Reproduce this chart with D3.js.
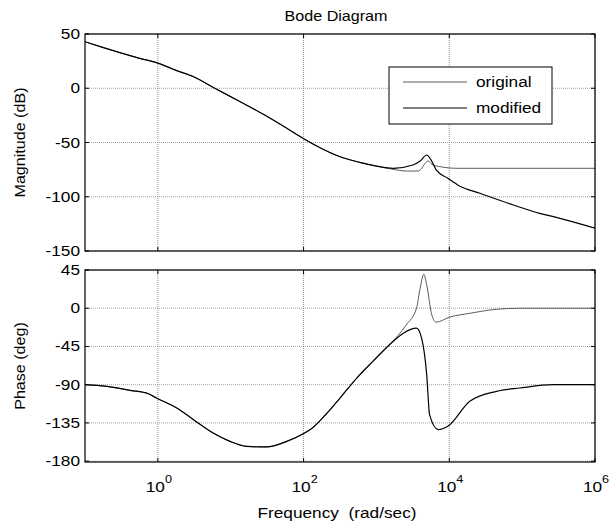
<!DOCTYPE html>
<html>
<head>
<meta charset="utf-8">
<script src="https://cdn.jsdelivr.net/npm/d3@7"></script>
<style>
body { margin: 0; background: #fff; }
text { font-family: Arial, "Liberation Sans", sans-serif; fill: #000; }
</style>
</head>
<body>
<svg id="chart"></svg>
<script>
// frequency (rad/sec), value
const magOriginal = [
	[0.1, 42.9], [0.162, 38.3], [0.562, 27.6], [0.955, 23.6], [1.82, 16.2], [3.09, 10.6],
	[6.03, 0], [13.5, -12.4], [30.9, -25.6], [58.9, -36.9], [97.7, -46.1], [316, -63.1],
	[589, -68.3], [1000, -71.7], [1700, -74.7], [2570, -76.3], [3715, -76.3], [4170, -74],
	[4680, -69], [5130, -67], [5750, -70], [7080, -72], [13200, -73.8], [1e6, -73.8]
];
const magModified = [
	[0.1, 42.9], [0.162, 38.3], [0.562, 27.6], [0.955, 23.6], [1.82, 16.2], [3.09, 10.6],
	[6.03, 0], [13.5, -12.4], [30.9, -25.6], [58.9, -36.9], [97.7, -46.1], [316, -63.1],
	[589, -68.3], [1000, -71.7], [1700, -73.8], [3160, -70.7], [3980, -67], [4900, -61.5],
	[5620, -66], [6610, -75.3], [9550, -83], [13800, -90.1], [26300, -96.8], [75900, -107.6],
	[174000, -115.3], [295000, -119], [1e6, -129]
];
const phaseOriginal = [
	[0.1, -90], [0.2, -92], [0.417, -96.7], [0.741, -100.6], [0.955, -105.7], [1.82, -117.4],
	[3.09, -131.2], [5.75, -146.9], [9.77, -156.7], [16.6, -162.6], [30.9, -163.3], [58.9, -156.7],
	[97.7, -148], [135, -140.3], [209, -123.6], [316, -105.7], [537, -82.2], [891, -62.6],
	[1510, -43], [2570, -19.6], [3550, 0], [3980, 23.5], [4470, 40], [4900, 27.4],
	[5750, -7.8], [6610, -16.4], [10000, -10.6], [19100, -6], [44700, -1.2], [93300, 0], [1e6, 0]
];
const phaseModified = [
	[0.1, -90], [0.2, -92], [0.417, -96.7], [0.741, -100.6], [0.955, -105.7], [1.82, -117.4],
	[3.09, -131.2], [5.75, -146.9], [9.77, -156.7], [16.6, -162.6], [30.9, -163.3], [58.9, -156.7],
	[97.7, -148], [135, -140.3], [209, -123.6], [316, -105.7], [537, -82.2], [891, -62.6],
	[1510, -43], [2340, -29.4], [3550, -23.5], [4170, -35.3], [4900, -78.4], [5370, -125.5],
	[7080, -143], [9550, -139], [19100, -109.6], [44700, -97.8], [93300, -93.9], [269000, -90], [1e6, -90]
];
const freqTicks = [1, 100, 1e4, 1e6];
const freqTickExp = ["0", "2", "4", "6"];
const magTicks = [50, 0, -50, -100, -150];
const phaseTicks = [45, 0, -45, -90, -135, -180];
const seriesNames = ["original", "modified"];

const width = 610;
const height = 528;
const left = 85, right = 595;
const stretch = 1.15; // text in the picture is a bit wider than plain Arial

const svg = d3.select("#chart")
	.attr("width", width)
	.attr("height", height);

const x = d3.scaleLog().domain([0.1, 1e6]).range([left, right]);
const yMag = d3.scaleLinear().domain([-150, 50]).range([251, 34]);
const yPhase = d3.scaleLinear().domain([-181, 45]).range([462, 270]);

const styles = [
	{ stroke: "#333", width: 0.8 },
	{ stroke: "#000", width: 1.2 }
];

function addText(parent, tx, ty, str, size, anchor, rot) {
	const r = rot ? ` rotate(${rot})` : "";
	return parent.append("text")
		.attr("transform", `translate(${tx}, ${ty})${r} scale(${stretch}, 1)`)
		.attr("text-anchor", anchor || "start")
		.style("font-size", size + "px")
		.text(str);
}

function drawPanel(y, yTicks, series, label, id) {
	const top = y.range()[1], bottom = y.range()[0];
	const g = svg.append("g");

	g.append("clipPath").attr("id", id)
		.append("rect")
		.attr("x", left).attr("y", top)
		.attr("width", right - left).attr("height", bottom - top);

	// grid
	g.selectAll(".hgrid")
		.data(yTicks)
		.enter()
		.append("line")
		.attr("x1", left).attr("x2", right)
		.attr("y1", (d) => y(d)).attr("y2", (d) => y(d))
		.attr("stroke", "#888")
		.attr("stroke-width", 0.8)
		.attr("stroke-dasharray", "1,1");
	g.selectAll(".vgrid")
		.data(freqTicks)
		.enter()
		.append("line")
		.attr("x1", (d) => x(d)).attr("x2", (d) => x(d))
		.attr("y1", top).attr("y2", bottom)
		.attr("stroke", "#777")
		.attr("stroke-width", 0.8)
		.attr("stroke-dasharray", "1,1");

	// inner ticks on all four sides
	const tl = 4;
	yTicks.forEach((t) => {
		g.append("line").attr("x1", left).attr("x2", left + tl)
			.attr("y1", y(t)).attr("y2", y(t)).attr("stroke", "#000");
		g.append("line").attr("x1", right).attr("x2", right - tl)
			.attr("y1", y(t)).attr("y2", y(t)).attr("stroke", "#000");
	});
	freqTicks.forEach((t) => {
		g.append("line").attr("x1", x(t)).attr("x2", x(t))
			.attr("y1", top).attr("y2", top + tl).attr("stroke", "#000");
		g.append("line").attr("x1", x(t)).attr("x2", x(t))
			.attr("y1", bottom).attr("y2", bottom - tl).attr("stroke", "#000");
	});

	// tick labels
	yTicks.forEach((t) => {
		addText(g, left - 5, y(t) + 5, t, 15, "end");
	});

	// curves
	const line = d3.line()
		.x((d) => x(d[0]))
		.y((d) => y(d[1]))
		.curve(d3.curveMonotoneX);
	series.forEach((s, i) => {
		g.append("path")
			.datum(s)
			.attr("d", line)
			.attr("fill", "none")
			.attr("clip-path", `url(#${id})`)
			.attr("stroke", styles[i].stroke)
			.attr("stroke-width", styles[i].width);
	});

	// frame
	g.append("rect")
		.attr("x", left).attr("y", top)
		.attr("width", right - left).attr("height", bottom - top)
		.attr("fill", "none")
		.attr("stroke", "#000")
		.attr("stroke-width", 1.2);

	addText(svg, 25, (top + bottom) / 2, label, 14, "middle", -90);
}

drawPanel(yMag, magTicks, [magOriginal, magModified], "Magnitude (dB)", "clipMag");
drawPanel(yPhase, phaseTicks, [phaseOriginal, phaseModified], "Phase (deg)", "clipPhase");

// x tick labels with exponents
freqTicks.forEach((t, i) => {
	const lab = addText(svg, x(t) + 1, 492, null, 15, "middle");
	lab.append("tspan").text("10");
	lab.append("tspan")
		.attr("dy", -9)
		.style("font-size", "11px")
		.text(freqTickExp[i]);
});

addText(svg, 337, 518, "Frequency  (rad/sec)", 15, "middle")
	.attr("xml:space", "preserve");

addText(svg, 336, 21, "Bode Diagram", 14, "middle");

// legend
const legend = svg.append("g");
legend.append("rect")
	.attr("x", 389).attr("y", 67)
	.attr("width", 163).attr("height", 57)
	.attr("fill", "#fff")
	.attr("stroke", "#000")
	.attr("stroke-width", 1);
seriesNames.forEach((name, i) => {
	const ly = 82 + i * 26;
	legend.append("line")
		.attr("x1", 403).attr("x2", 467)
		.attr("y1", ly).attr("y2", ly)
		.attr("stroke", styles[i].stroke)
		.attr("stroke-width", styles[i].width);
	addText(legend, 476, ly + 5, name, 15, "start");
});
</script>
</body>
</html>
